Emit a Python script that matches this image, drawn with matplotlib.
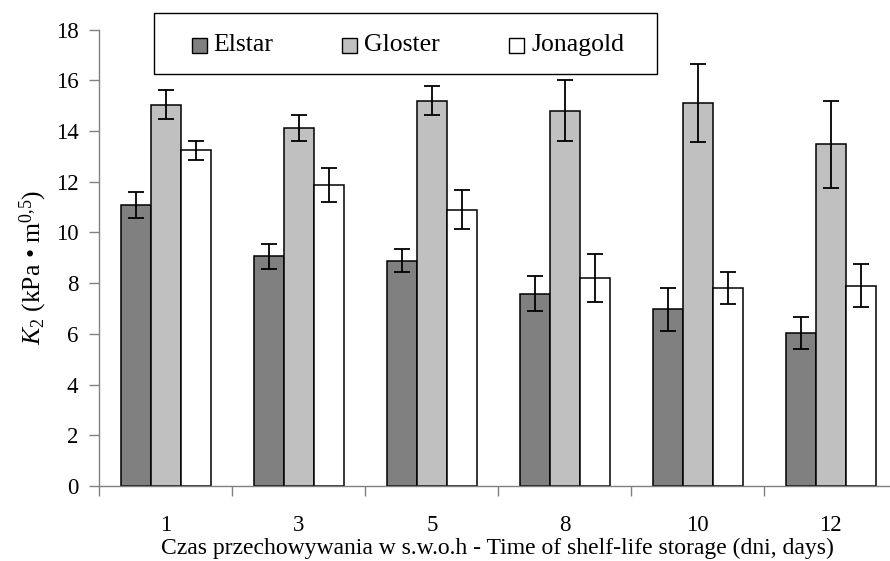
import numpy as np
import matplotlib
matplotlib.use("Agg")
import matplotlib.pyplot as plt
from matplotlib.patches import Rectangle
from matplotlib.ticker import FixedLocator

plt.rcParams['font.family'] = ['Liberation Serif', 'DejaVu Serif']
plt.rcParams['mathtext.fontset'] = 'custom'
plt.rcParams['mathtext.rm'] = 'Liberation Serif'
plt.rcParams['mathtext.it'] = 'Liberation Serif:italic'

# Storage time (days) and K2 means with standard deviations
days = ['1', '3', '5', '8', '10', '12']
series = ['Elstar', 'Gloster', 'Jonagold']
elstar = [11.07, 9.06, 8.88, 7.59, 6.96, 6.04]
gloster = [15.03, 14.11, 15.20, 14.80, 15.10, 13.48]
jonagold = [13.24, 11.85, 10.90, 8.19, 7.81, 7.89]
elstar_err = [0.52, 0.50, 0.46, 0.70, 0.86, 0.63]
gloster_err = [0.57, 0.51, 0.57, 1.21, 1.55, 1.72]
jonagold_err = [0.38, 0.67, 0.78, 0.94, 0.62, 0.85]

colors = ['#808080', '#c0c0c0', '#ffffff']

W, H = 890, 561
fig = plt.figure(figsize=(W / 100, H / 100), dpi=100)
ax = fig.add_axes([99.3 / W, 75 / H, 798 / W, 456.5 / H])

x = np.arange(len(days))
w = 0.2256
vals = [elstar, gloster, jonagold]
errs = [elstar_err, gloster_err, jonagold_err]
for i, (v, e, c, name) in enumerate(zip(vals, errs, colors, series)):
    pos = x + (i - 1) * w
    ax.bar(pos, v, width=w, color=c, edgecolor='black', linewidth=1.1,
           label=name, zorder=2)
    ax.errorbar(pos, v, yerr=e, fmt='none', ecolor='black', elinewidth=1.3,
                capsize=5.5, capthick=1.3, zorder=3)

ax.set_xlim(-0.5, len(days) - 0.5)
ax.set_ylim(0, 18)
ax.set_yticks(np.arange(0, 19, 2))
ax.set_xticks(x)
ax.set_xticklabels(days)
ax.xaxis.set_minor_locator(FixedLocator(np.arange(-0.5, len(days), 1.0)))
ax.tick_params(axis='x', which='major', length=0, pad=21, labelsize=16.5)
ax.tick_params(axis='x', which='minor', length=7, width=1.0, color='#808080')
ax.tick_params(axis='y', length=7, width=1.0, color='#808080', labelsize=16.5, pad=8)

for s in ['top', 'right']:
    ax.spines[s].set_visible(False)
for s in ['left', 'bottom']:
    ax.spines[s].set_color('#808080')
    ax.spines[s].set_linewidth(1.0)


def fx(px):
    return px / W


def fy(py):
    return 1 - py / H


fig.text(fx(497), fy(548), 'Czas przechowywania w s.w.o.h - Time of shelf-life storage (dni, days)',
         fontsize=17, ha='center', va='center')
fig.text(fx(33), fy(267), r'$K_2$ (kPa • m$^{0{,}5}$)', rotation=90,
         ha='center', va='center', fontsize=18.5)

# Legend box laid out in figure pixels
fig.add_artist(Rectangle((fx(154), fy(74)), fx(503), 61 / H,
                         transform=fig.transFigure, facecolor='white',
                         edgecolor='black', linewidth=1.0, zorder=5))
for name, c, px_patch, px_text in zip(series, colors, [192, 342, 509], [213, 364, 531]):
    fig.add_artist(Rectangle((fx(px_patch), fy(52.5)), 15 / W, 15 / H,
                             transform=fig.transFigure, facecolor=c,
                             edgecolor='black', linewidth=1.0, zorder=6))
    fig.text(fx(px_text), fy(45), name, fontsize=18.5, ha='left', va='center',
             zorder=7)

fig.savefig('out.png', dpi=100)
